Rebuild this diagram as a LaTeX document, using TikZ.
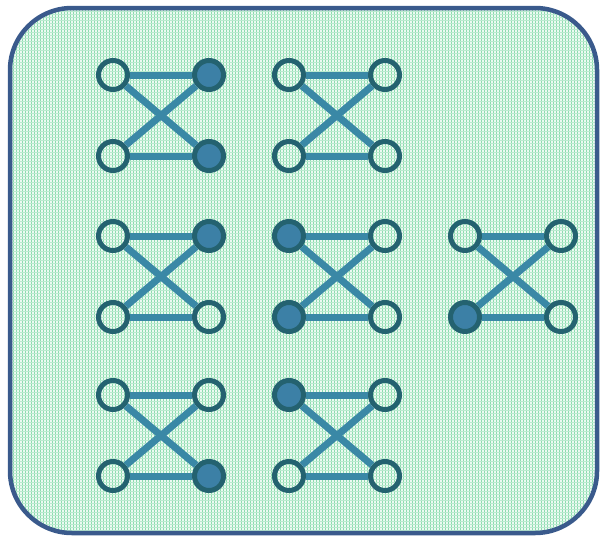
\documentclass[tikz,border=0pt]{standalone}
\definecolor{framec}{RGB}{58,90,140}
\definecolor{bgc}{RGB}{236,250,242}
\definecolor{gridc}{RGB}{140,220,175}
\definecolor{nodec}{RGB}{36,98,112}
\definecolor{fillc}{RGB}{60,128,166}
\definecolor{edgec}{RGB}{58,136,166}
\tikzset{
  vtx/.style={circle,draw=nodec,line width=5pt,minimum size=29pt,inner sep=0pt},
  vfull/.style={vtx,fill=fillc},
  edg/.style={draw=edgec,line width=7pt},
  frame/.style={draw=framec,line width=4.5pt,rounded corners=62pt}
}
\begin{document}
\begin{tikzpicture}[x=1pt,y=-1pt]
\useasboundingbox (0,0) rectangle (601,538);
\begin{scope}
\clip[rounded corners=62pt] (10,8) rectangle (597,533);
\fill[bgc] (10,8) rectangle (597,533);
\foreach \i in {0,...,196} {
  \draw[gridc,line width=0.5pt] ({10+3*\i},8) -- ({10+3*\i},533);
}
\foreach \j in {0,...,176} {
  \draw[gridc!60,line width=0.4pt] (10,{8+3*\j}) -- (597,{8+3*\j});
}
\end{scope}
\draw[frame] (10,8) rectangle (597,533);
\foreach \n/\xl/\yt/\sa/\sb/\sc/\sd in {
  g1/113/75/vtx/vfull/vtx/vfull,
  g2/289/75/vtx/vtx/vtx/vtx,
  g3/113/236/vtx/vfull/vtx/vtx,
  g4/289/236/vfull/vtx/vfull/vtx,
  g5/465/236/vtx/vtx/vfull/vtx,
  g6/113/395/vtx/vtx/vtx/vfull,
  g7/289/395/vfull/vtx/vtx/vtx} {
  \node[\sa] (\n tl) at (\xl,\yt) {};
  \node[\sb] (\n tr) at (\xl+96,\yt) {};
  \node[\sc] (\n bl) at (\xl,\yt+81) {};
  \node[\sd] (\n br) at (\xl+96,\yt+81) {};
  \draw[edg] (\n tl) -- (\n tr);
  \draw[edg] (\n bl) -- (\n br);
  \draw[edg] (\n tl) -- (\n br);
  \draw[edg] (\n bl) -- (\n tr);
}
\end{tikzpicture}
\end{document}
